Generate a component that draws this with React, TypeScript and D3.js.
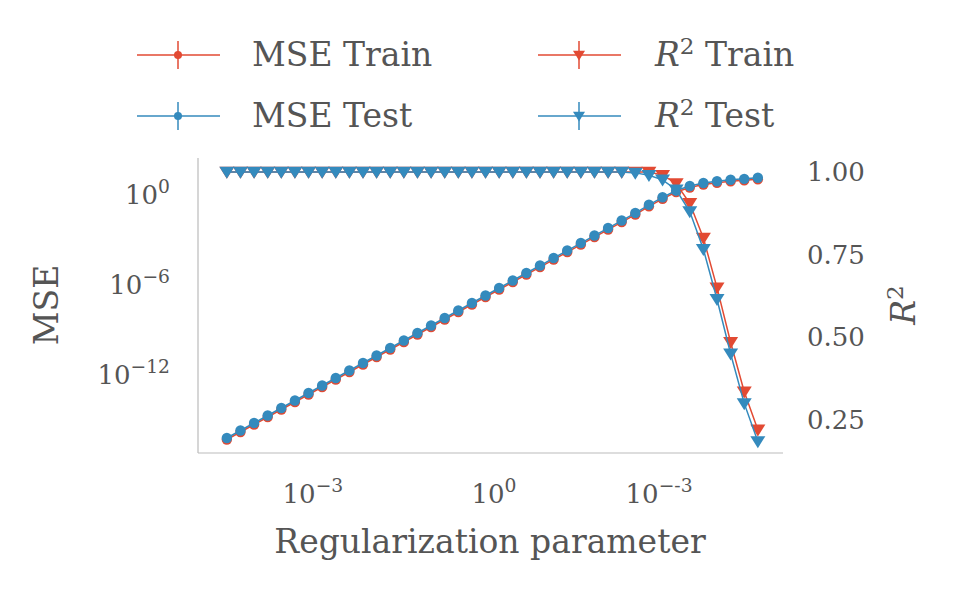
import React from 'react';
import * as d3 from 'd3';

// log10 of the regularization parameter
const logLambda = d3.range(40).map(i => -4.7 + 0.236 * i);

// log10 of MSE values
const mseTrainLog = [
  -16.3, -15.8, -15.3, -14.8, -14.3, -13.8, -13.3, -12.8, -12.3, -11.8,
  -11.3, -10.8, -10.3, -9.8, -9.3, -8.8, -8.3, -7.8, -7.3, -6.8,
  -6.3, -5.8, -5.3, -4.8, -4.3, -3.8, -3.3, -2.8, -2.3, -1.8,
  -1.3, -0.75, -0.25, 0.2, 0.5, 0.7, 0.82, 0.92, 0.98, 1.05,
];
const mseTestLog = mseTrainLog.map(v => v + 0.1);

const r2Train = [
  1, 1, 1, 1, 1, 1, 1, 1, 1, 1, 1, 1, 1, 1, 1, 1, 1, 1, 1, 1,
  1, 1, 1, 1, 1, 1, 1, 1, 1, 1, 1, 1, 0.99, 0.965, 0.905, 0.8, 0.65, 0.485, 0.335, 0.22,
];
const r2Test = [
  1, 1, 1, 1, 1, 1, 1, 1, 1, 1, 1, 1, 1, 1, 1, 1, 1, 1, 1, 1,
  1, 1, 1, 1, 1, 1, 1, 1, 1, 1, 0.997, 0.99, 0.976, 0.946, 0.88, 0.766, 0.615, 0.45, 0.3, 0.185,
];

const xTicks = [-3, 0, 3];
const mseTicks = [0, -6, -12];
const r2Ticks = [1.0, 0.75, 0.5, 0.25];

const RED = '#E24A33';
const BLUE = '#348ABD';
const TXT = '#555555';
const FONT = '"DejaVu Serif", "Liberation Serif", serif';

const x = d3.scaleLinear().domain([-5.2, 4.94]).range([198, 783]);
const yMse = d3.scaleLinear().domain([-17.2, 2.47]).range([453, 158]);
const yR2 = d3.scaleLinear().domain([0.15, 1.042]).range([453, 158]);

const tri = (cx: number, cy: number, s = 7.5) =>
  `M${cx - s},${cy - s * 0.7}L${cx + s},${cy - s * 0.7}L${cx},${cy + s * 0.9}Z`;

const Series = ({ ys, y, color, marker }: { ys: number[]; y: d3.ScaleLinear<number, number>; color: string; marker: 'o' | 'v' }) => {
  const line = d3.line<number>().x((_, i) => x(logLambda[i])).y(v => y(v));
  return (
    <g>
      <path d={line(ys) || ''} fill="none" stroke={color} strokeWidth={1.5} />
      {ys.map((v, i) => marker === 'o'
        ? <circle key={i} cx={x(logLambda[i])} cy={y(v)} r={5.2} fill={color} />
        : <path key={i} d={tri(x(logLambda[i]), y(v))} fill={color} />)}
    </g>
  );
};

const Sup = ({ base, exp, ...rest }: any) => (
  <text {...rest}>{base}<tspan dy={-11} fontSize="0.72em">{exp}</tspan></text>
);

const LegendItem = ({ lx, ly, color, marker, label }: any) => (
  <g>
    <line x1={lx} x2={lx + 83} y1={ly} y2={ly} stroke={color} strokeWidth={1.5} />
    <line x1={lx + 41} x2={lx + 41} y1={ly - 14} y2={ly + 14} stroke={color} strokeWidth={1.5} />
    {marker === 'o' ? <circle cx={lx + 41} cy={ly} r={4} fill={color} /> : <path d={tri(lx + 41, ly, 6)} fill={color} />}
    {label}
  </g>
);

export default function App() {
  const legendText = { fontSize: 33, fill: TXT, fontFamily: FONT };
  return (
    <svg width={955} height={592} style={{ display: 'block', margin: -8 }} fontFamily={FONT}>
      <rect width={955} height={592} fill="white" />
      {/* spines */}
      <line x1={198} x2={198} y1={158} y2={453} stroke="#bbbbbb" strokeWidth={1.2} />
      <line x1={198} x2={783} y1={453} y2={453} stroke="#bbbbbb" strokeWidth={1.2} />

      <Series ys={mseTrainLog} y={yMse} color={RED} marker="o" />
      <Series ys={mseTestLog} y={yMse} color={BLUE} marker="o" />
      <Series ys={r2Train} y={yR2} color={RED} marker="v" />
      <Series ys={r2Test} y={yR2} color={BLUE} marker="v" />

      {xTicks.map(t => (
        <Sup key={t} base="10" exp={t === 0 ? '0' : `−${-t}`} x={x(t) - (t === 0 ? 4 : 12)} y={503}
          textAnchor="middle" fontSize={26} fill={TXT} />
      ))}
      {mseTicks.map(t => (
        <Sup key={t} base="10" exp={t === 0 ? '0' : `−${-t}`} x={170} y={yMse(t) + 9}
          textAnchor="end" fontSize={26} fill={TXT} />
      ))}
      {r2Ticks.map(t => (
        <text key={t} x={807} y={yR2(t) + 9} fontSize={26} fill={TXT}>{d3.format('.2f')(t)}</text>
      ))}

      <text x={490} y={553} textAnchor="middle" fontSize={33} fill={TXT}>Regularization parameter</text>
      <text transform="translate(58,305) rotate(-90)" textAnchor="middle" fontSize={33} fill={TXT}>MSE</text>
      <text transform="translate(915,305) rotate(-90)" textAnchor="middle" fontSize={33} fill={TXT} fontStyle="italic">
        R<tspan dy={-12} fontSize="0.7em" fontStyle="normal">2</tspan>
      </text>

      <LegendItem lx={137} ly={55} color={RED} marker="o" label={<text x={252} y={66} {...legendText}>MSE Train</text>} />
      <LegendItem lx={137} ly={116} color={BLUE} marker="o" label={<text x={252} y={127} {...legendText}>MSE Test</text>} />
      <LegendItem lx={538} ly={55} color={RED} marker="v" label={
        <text x={655} y={66} {...legendText}><tspan fontStyle="italic">R</tspan><tspan dy={-12} fontSize="0.7em">2</tspan><tspan dy={12}> Train</tspan></text>} />
      <LegendItem lx={538} ly={116} color={BLUE} marker="v" label={
        <text x={655} y={127} {...legendText}><tspan fontStyle="italic">R</tspan><tspan dy={-12} fontSize="0.7em">2</tspan><tspan dy={12}> Test</tspan></text>} />
    </svg>
  );
}
